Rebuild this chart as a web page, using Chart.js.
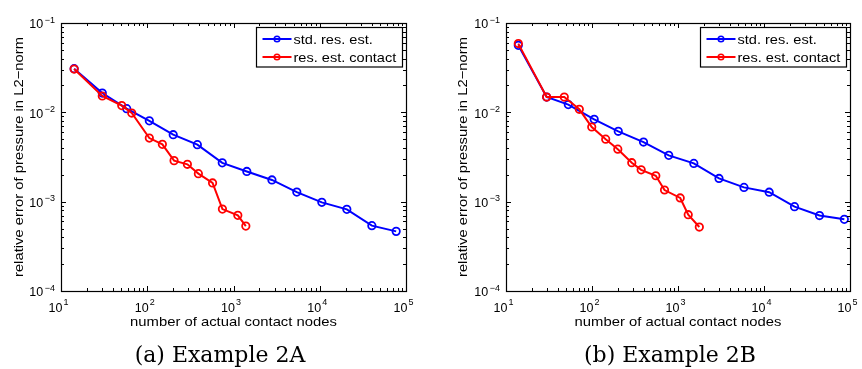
<!DOCTYPE html>
<html>
<head>
<meta charset="utf-8">
<script src="https://cdn.jsdelivr.net/npm/chart.js@4.4.1/dist/chart.umd.min.js"></script>
<style>
  body { margin: 0; background: #fff; }
  #wrap { position: relative; width: 862px; height: 369px; }
  canvas { position: absolute; top: 0; }
</style>
</head>
<body>
<div id="wrap">
  <canvas id="chartA" width="431" height="369" style="left:0"></canvas>
  <canvas id="chartB" width="431" height="369" style="left:431px"></canvas>
</div>
<script>
// Example 2A
const nodesA_std = [14.2, 30.1, 57.8, 105.7, 200, 381, 741, 1427, 2790, 5420, 10570, 20600, 40200, 76900];
const errA_std = [0.0308, 0.01644, 0.0110, 0.00803, 0.00562, 0.00435, 0.00272, 0.00218, 0.00175, 0.00128, 0.000982, 0.000820, 0.000539, 0.000465];
const nodesA_con = [14.2, 30.1, 50.6, 66.1, 105.7, 149.7, 204.6, 291.9, 391.5, 572, 744, 1122, 1390];
const errA_con = [0.0305, 0.01524, 0.01189, 0.00982, 0.00515, 0.00438, 0.00288, 0.00262, 0.00206, 0.00162, 0.000826, 0.000703, 0.000533];

// Example 2B
const nodesB_std = [13.9, 29.7, 53.0, 106, 202, 397, 780, 1527, 2998, 5850, 11490, 22640, 44200, 85900];
const errB_std = [0.0562, 0.01483, 0.0122, 0.00835, 0.00613, 0.00465, 0.0033, 0.00268, 0.00182, 0.001445, 0.001277, 0.000879, 0.000699, 0.000634];
const nodesB_con = [13.9, 29.7, 47.6, 71.2, 99.3, 144.3, 199.5, 290, 373, 552, 697, 1061, 1315, 1770];
const errB_con = [0.0588, 0.01483, 0.01483, 0.01081, 0.00685, 0.00501, 0.00387, 0.00273, 0.00227, 0.00195, 0.00135, 0.0011, 0.000715, 0.00052];

const seriesLabels = ['std. res. est.', 'res. est. contact'];
const xExponents = [1, 2, 3, 4, 5];
const yExponents = [-4, -3, -2, -1];
const xTitle = 'number of actual contact nodes';
const yTitle = 'relative error of pressure in L2\u2212norm';

const sans = '"Liberation Sans", Arial, Helvetica, sans-serif';

function pts(xs, ys) {
    return xs.map((x, i) => ({ x: x, y: ys[i] }));
}

// text drawn a bit wider than the font, like the MATLAB export
function wideText(ctx, txt, x, y, size, align, sx, rot) {
    ctx.save();
    ctx.translate(x, y);
    if (rot) ctx.rotate(rot);
    ctx.scale(sx, 1);
    ctx.font = size + 'px ' + sans;
    ctx.textAlign = align;
    ctx.textBaseline = 'alphabetic';
    ctx.fillText(txt, 0, 0);
    ctx.restore();
}

const axesPlugin = {
    id: 'matlabAxes',
    afterDraw(chart, args, opts) {
        const ctx = chart.ctx;
        const a = chart.chartArea;
        const xs = chart.scales.x, ys = chart.scales.y;
        ctx.save();
        ctx.strokeStyle = '#000';
        ctx.fillStyle = '#000';
        ctx.lineWidth = 1;

        // inward ticks on all four sides
        ctx.beginPath();
        for (let d = 1; d <= 5; d++) {
            for (let k = 1; k <= 9; k++) {
                if (d === 5 && k > 1) break;
                const v = k * Math.pow(10, d);
                const px = Math.round(xs.getPixelForValue(v)) + 0.5;
                const len = k === 1 ? 5 : 3;
                ctx.moveTo(px, a.bottom); ctx.lineTo(px, a.bottom - len);
                ctx.moveTo(px, a.top); ctx.lineTo(px, a.top + len);
            }
        }
        for (let d = -4; d <= -1; d++) {
            for (let k = 1; k <= 9; k++) {
                if (d === -1 && k > 1) break;
                const v = k * Math.pow(10, d);
                const py = Math.round(ys.getPixelForValue(v)) + 0.5;
                const len = k === 1 ? 5 : 3;
                ctx.moveTo(a.left, py); ctx.lineTo(a.left + len, py);
                ctx.moveTo(a.right, py); ctx.lineTo(a.right - len, py);
            }
        }
        ctx.stroke();

        ctx.lineWidth = 1.2;
        ctx.strokeRect(Math.round(a.left) + 0.5, Math.round(a.top) + 0.5,
            Math.round(a.right) - Math.round(a.left), Math.round(a.bottom) - Math.round(a.top));

        // tick labels with exponents
        ctx.textBaseline = 'alphabetic';
        xExponents.forEach(e => {
            const px = xs.getPixelForValue(Math.pow(10, e));
            ctx.font = '12.5px ' + sans;
            ctx.textAlign = 'right';
            ctx.fillText('10', px + 1.5, a.bottom + 20.5);
            ctx.font = '9px ' + sans;
            ctx.textAlign = 'left';
            ctx.fillText(String(e), px + 2.5, a.bottom + 13.5);
        });
        yExponents.forEach(e => {
            const py = ys.getPixelForValue(Math.pow(10, e));
            const ex = '\u2212' + Math.abs(e);
            ctx.font = '9px ' + sans;
            ctx.textAlign = 'right';
            ctx.fillText(ex, a.left - 6, py - 0.5);
            const w = ctx.measureText(ex).width;
            ctx.font = '12.5px ' + sans;
            ctx.fillText('10', a.left - 7.5 - w, py + 5.4);
        });

        // axis titles
        wideText(ctx, xTitle, (a.left + a.right) / 2, a.bottom + 34.8, 13, 'center', 1.14, 0);
        wideText(ctx, yTitle, a.left + opts.yTitleOff, (a.top + a.bottom) / 2, 13, 'center', 1.14, -Math.PI / 2);

        // legend box in the upper right corner
        const bw = 146, bh = 39.5;
        const bx = Math.round(a.right - 4.5 - bw) + 0.5, by = Math.round(a.top + 3.5) + 0.5;
        ctx.fillStyle = '#fff';
        ctx.fillRect(bx, by, bw, bh);
        ctx.lineWidth = 1.2;
        ctx.strokeStyle = '#000';
        ctx.strokeRect(bx, by, bw, bh);
        chart.data.datasets.forEach((ds, i) => {
            const ry = by + 11.5 + i * 18;
            ctx.strokeStyle = ds.borderColor;
            ctx.lineWidth = 2;
            ctx.beginPath();
            ctx.moveTo(bx + 6, ry); ctx.lineTo(bx + 35, ry);
            ctx.stroke();
            ctx.lineWidth = 1.5;
            ctx.beginPath();
            ctx.arc(bx + 20.5, ry, 2.8, 0, Math.PI * 2);
            ctx.stroke();
            ctx.fillStyle = '#000';
            wideText(ctx, ds.label, bx + 37, ry + 4.8, 13, 'left', 1.12, 0);
        });

        // caption
        ctx.fillStyle = '#000';
        ctx.font = '22px "DejaVu Serif", "Liberation Serif", serif';
        ctx.textAlign = 'center';
        ctx.textBaseline = 'middle';
        ctx.fillText(opts.caption, opts.capX, 356);
        ctx.restore();
    }
};

function makeChart(id, stdX, stdY, conX, conY, yAxisWidth, padRight, caption, capX, yTitleOff) {
    const ctx = document.getElementById(id).getContext('2d');
    return new Chart(ctx, {
        type: 'line',
        data: {
            datasets: [{
                label: seriesLabels[0],
                data: pts(stdX, stdY),
                borderColor: '#0000ff',
                pointBorderColor: '#0000ff',
                pointBackgroundColor: 'rgba(0,0,0,0)',
                borderWidth: 2,
                pointRadius: 3.7,
                pointBorderWidth: 1.8,
                tension: 0,
                fill: false,
                order: 2
            }, {
                label: seriesLabels[1],
                data: pts(conX, conY),
                borderColor: '#ff0000',
                pointBorderColor: '#ff0000',
                pointBackgroundColor: 'rgba(0,0,0,0)',
                borderWidth: 2,
                pointRadius: 3.7,
                pointBorderWidth: 1.8,
                tension: 0,
                fill: false,
                order: 1
            }]
        },
        options: {
            responsive: false,
            animation: false,
            devicePixelRatio: 1,
            layout: { padding: { left: 0, right: padRight, top: 23, bottom: 0 } },
            plugins: {
                legend: { display: false },
                tooltip: { enabled: false },
                matlabAxes: { caption: caption, capX: capX, yTitleOff: yTitleOff }
            },
            scales: {
                x: {
                    type: 'logarithmic', min: 10, max: 1e5,
                    grid: { display: false }, border: { display: false },
                    ticks: { display: false },
                    afterFit: s => { s.height = 78; }
                },
                y: {
                    type: 'logarithmic', min: 1e-4, max: 1e-1,
                    grid: { display: false }, border: { display: false },
                    ticks: { display: false },
                    afterFit: s => { s.width = yAxisWidth; }
                }
            }
        },
        plugins: [axesPlugin]
    });
}

makeChart('chartA', nodesA_std, errA_std, nodesA_con, errA_con, 61, 25, '(a) Example 2A', 220, -38.5);
makeChart('chartB', nodesB_std, errB_std, nodesB_con, errB_con, 75, 12, '(b) Example 2B', 239, -39.5);
</script>
</body>
</html>
